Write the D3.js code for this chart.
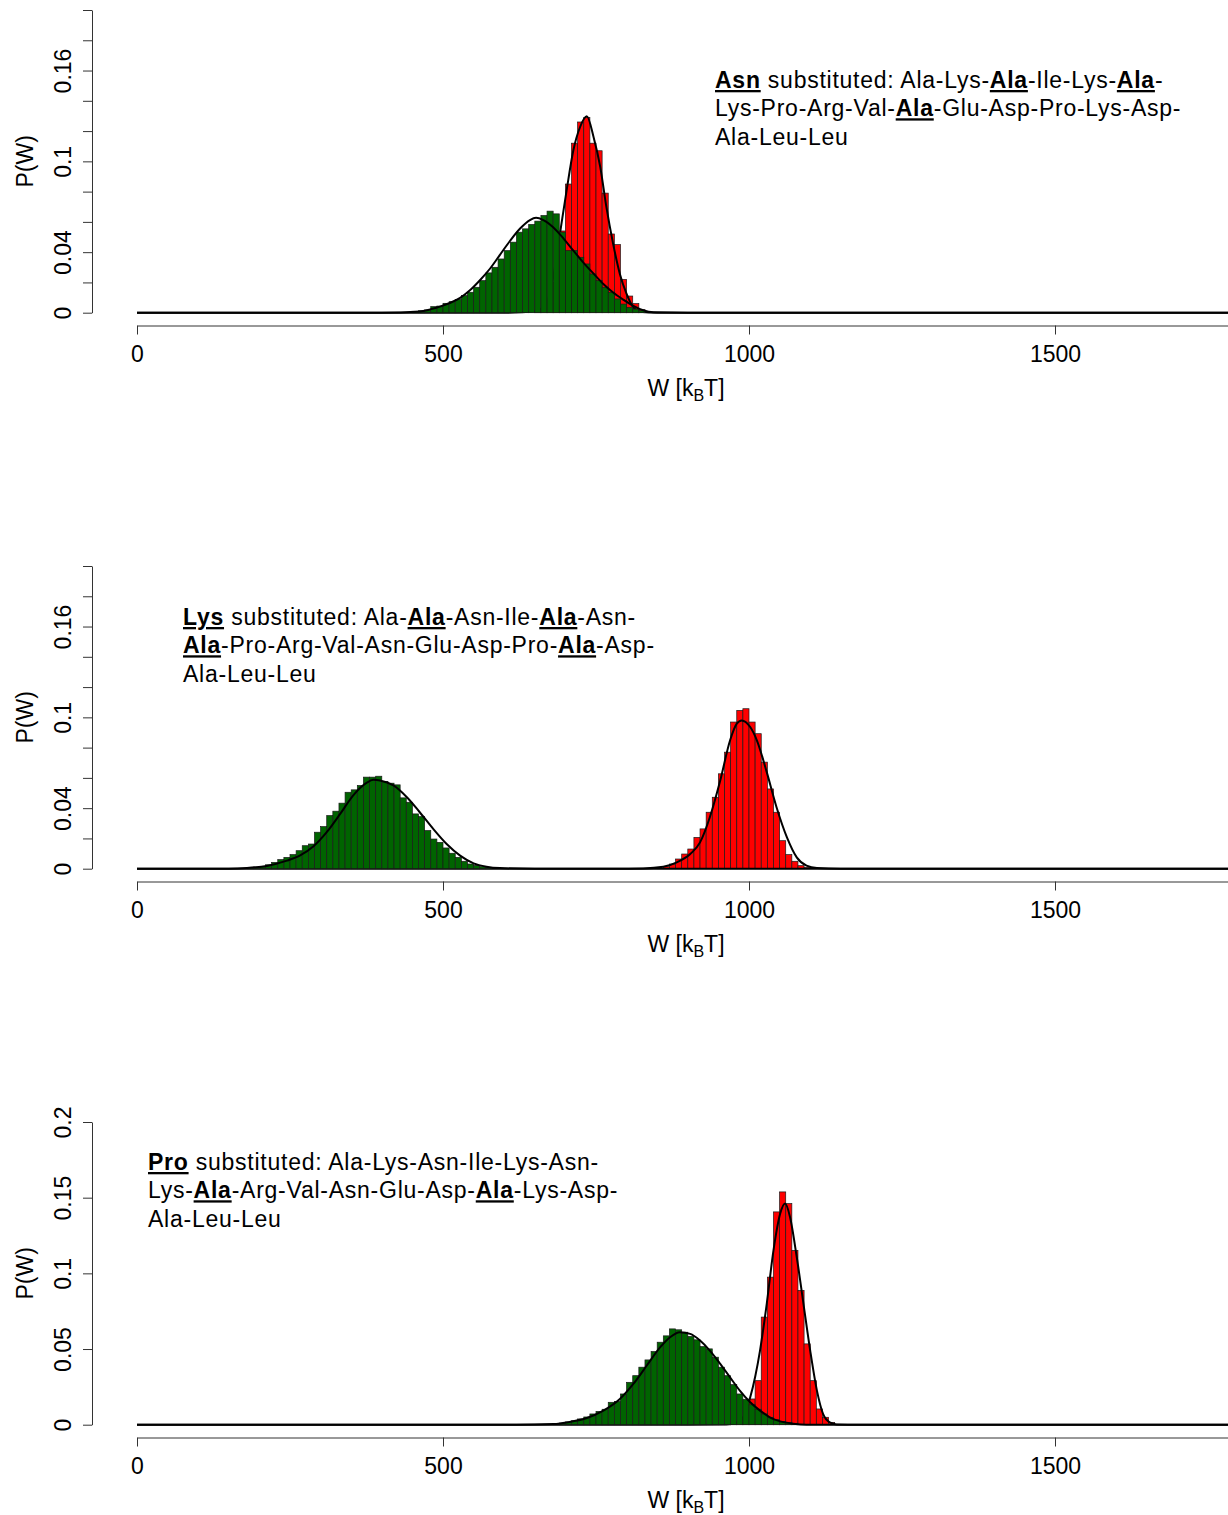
<!DOCTYPE html>
<html>
<head>
<meta charset="utf-8">
<script src="https://cdn.jsdelivr.net/npm/d3@7"></script>
<style>
body { margin: 0; background: #fff; }
text { font-family: "Liberation Sans", Arial, sans-serif; fill: #000; white-space: pre; }
</style>
</head>
<body>
<svg id="main"></svg>
<script>
// bin width of every histogram, in kBT
var binWidth = 10;

// Asn substituted
var asnGreenStart = 450;
var asnGreen = [0.0009, 0.0013, 0.0018, 0.0040, 0.0044, 0.0062, 0.0073, 0.0088, 0.0113, 0.0135,
	0.0168, 0.0212, 0.0263, 0.0300, 0.0355, 0.0410, 0.0466, 0.0532, 0.0554, 0.0583,
	0.0605, 0.0642, 0.0671, 0.0653, 0.0532, 0.0410, 0.0410, 0.0366, 0.0322, 0.0256,
	0.0212, 0.0168, 0.0135, 0.0091, 0.0057, 0.0035, 0.0024, 0.0013];
var asnRedStart = 650;
var asnRed = [0.001, 0.003, 0.007, 0.020, 0.054, 0.085, 0.112, 0.126, 0.129, 0.112,
	0.107, 0.079, 0.052, 0.045, 0.022, 0.011, 0.006, 0.002];
var asnGreenFit = [[0, 0], [400, 0], [462, 0.0008], [479, 0.0022], [495, 0.004], [511, 0.0064], [528, 0.0098],
	[544, 0.0148], [560, 0.0213], [577, 0.0292], [593, 0.0382], [609, 0.0472], [626, 0.0556], [642, 0.0612],
	[652, 0.0627], [664, 0.0612], [680, 0.0565], [697, 0.0490], [713, 0.0410], [729, 0.0333], [746, 0.0258],
	[762, 0.0190], [778, 0.0133], [795, 0.0085], [811, 0.0045], [827, 0.0016], [844, 0.0003], [900, 0], [1800, 0]];
var asnRedFit = [[0, 0], [600, 0], [650, 0.0008], [669, 0.0065], [680, 0.0234], [691, 0.052], [702, 0.0808],
	[713, 0.1073], [724, 0.1227], [735, 0.1298], [746, 0.1161], [757, 0.0962], [767, 0.0697], [778, 0.0455],
	[789, 0.0256], [800, 0.0124], [811, 0.0035], [822, 0.0007], [850, 0], [1800, 0]];

// Lys substituted
var lysGreenStart = 180;
var lysGreen = [0.0009, 0.0011, 0.0015, 0.0026, 0.0042, 0.0060, 0.0075, 0.0093, 0.0119, 0.0152,
	0.0163, 0.0241, 0.0278, 0.0351, 0.0380, 0.0433, 0.0505, 0.0521, 0.0550, 0.0605,
	0.0605, 0.0611, 0.0576, 0.0565, 0.0554, 0.0468, 0.0439, 0.0362, 0.0344, 0.0252,
	0.0196, 0.0174, 0.0137, 0.0102, 0.0075, 0.0049, 0.0031, 0.0022, 0.0013, 0.0009];
var lysRedStart = 850;
var lysRed = [0.0003, 0.0013, 0.0031, 0.0064, 0.0097, 0.0130, 0.0207, 0.0263, 0.0373, 0.0472,
	0.0627, 0.0770, 0.0969, 0.1046, 0.1057, 0.0969, 0.0892, 0.0704, 0.0527, 0.0373,
	0.0185, 0.0093, 0.0049, 0.0020, 0.0009];
var lysGreenFit = [[0, 0], [150, 0], [179, 0.0004], [212, 0.0018], [245, 0.0053], [266, 0.0086], [288, 0.0146],
	[310, 0.0241], [332, 0.0362], [353, 0.0483], [375, 0.0567], [386, 0.0587], [397, 0.0583], [419, 0.055],
	[441, 0.0472], [462, 0.0373], [484, 0.0263], [506, 0.0163], [528, 0.0086], [550, 0.0035], [571, 0.0013],
	[593, 0.0004], [650, 0], [1800, 0]];
var lysRedFit = [[0, 0], [780, 0], [827, 0.0002], [860, 0.0013], [882, 0.0042], [904, 0.0097], [920, 0.0174],
	[936, 0.034], [953, 0.0583], [969, 0.0847], [980, 0.0958], [988, 0.098], [1002, 0.0936], [1013, 0.0847],
	[1029, 0.0638], [1045, 0.0406], [1062, 0.0207], [1078, 0.0075], [1094, 0.002], [1111, 0.0004], [1150, 0], [1800, 0]];

// Pro substituted
var proGreenStart = 680;
var proGreen = [0.0004, 0.0011, 0.0018, 0.0026, 0.0038, 0.0051, 0.0071, 0.0088, 0.0102, 0.0148,
	0.0154, 0.0203, 0.0280, 0.0324, 0.0380, 0.0428, 0.0483, 0.0545, 0.0587, 0.0633,
	0.0627, 0.0611, 0.0583, 0.0561, 0.0516, 0.0501, 0.0446, 0.0380, 0.0324, 0.0265,
	0.0203, 0.0168, 0.0132, 0.0102, 0.0071, 0.0049, 0.0033, 0.0022, 0.0015, 0.0009];
var proRedStart = 970;
var proRed = [0.0005, 0.0012, 0.003, 0.017, 0.0291, 0.0711, 0.0975, 0.1406, 0.1538, 0.1461,
	0.1152, 0.0887, 0.0534, 0.0291, 0.0104, 0.0049, 0.0015];
var proGreenFit = [[0, 0], [620, 0], [680, 0.0004], [707, 0.0018], [735, 0.0044], [762, 0.0093], [789, 0.017],
	[811, 0.0269], [833, 0.0391], [855, 0.0512], [871, 0.0578], [887, 0.0611], [904, 0.06], [920, 0.0556],
	[936, 0.049], [953, 0.0402], [969, 0.0313], [985, 0.0225], [1002, 0.0148], [1018, 0.0093], [1034, 0.0049],
	[1051, 0.0022], [1072, 0.0007], [1094, 0], [1800, 0]];
var proRedFit = [[0, 0], [900, 0], [963, 0.0002], [985, 0.0022], [1002, 0.0181], [1018, 0.049], [1029, 0.0799],
	[1040, 0.1152], [1051, 0.1395], [1059, 0.1461], [1067, 0.1373], [1078, 0.1108], [1089, 0.0799], [1100, 0.049],
	[1111, 0.0225], [1121, 0.0071], [1132, 0.0015], [1143, 0.0002], [1180, 0], [1800, 0]];

// axes
var xTicks = [0, 500, 1000, 1500];
var yTicksA = [0, 0.02, 0.04, 0.06, 0.08, 0.1, 0.12, 0.14, 0.16, 0.18, 0.2];
var yLabelsA = ["0", "0.04", "0.1", "0.16"];
var yTicksB = [0, 0.05, 0.1, 0.15, 0.2];
var yLabelsB = ["0", "0.05", "0.1", "0.15", "0.2"];

// notes, *word* = bold + underlined
var asnNote = ["*Asn* substituted: Ala-Lys-*Ala*-Ile-Lys-*Ala*-", "Lys-Pro-Arg-Val-*Ala*-Glu-Asp-Pro-Lys-Asp-", "Ala-Leu-Leu"];
var lysNote = ["*Lys* substituted: Ala-*Ala*-Asn-Ile-*Ala*-Asn-", "*Ala*-Pro-Arg-Val-Asn-Glu-Asp-Pro-*Ala*-Asp-", "Ala-Leu-Leu"];
var proNote = ["*Pro* substituted: Ala-Lys-Asn-Ile-Lys-Asn-", "Lys-*Ala*-Arg-Val-Asn-Glu-Asp-*Ala*-Lys-Asp-", "Ala-Leu-Leu"];

var panels = [
	{green: asnGreen, greenStart: asnGreenStart, red: asnRed, redStart: asnRedStart,
		greenFit: asnGreenFit, redFit: asnRedFit, ticks: yTicksA, labels: yLabelsA, note: asnNote,
		top: 0, noteX: 715, noteY: 88},
	{green: lysGreen, greenStart: lysGreenStart, red: lysRed, redStart: lysRedStart,
		greenFit: lysGreenFit, redFit: lysRedFit, ticks: yTicksA, labels: yLabelsA, note: lysNote,
		top: 556, noteX: 183, noteY: 69},
	{green: proGreen, greenStart: proGreenStart, red: proRed, redStart: proRedStart,
		greenFit: proGreenFit, redFit: proRedFit, ticks: yTicksB, labels: yLabelsB, note: proNote,
		top: 1112, noteX: 148, noteY: 58},
];

var width = 1228, height = 1515;
var svg = d3.select('#main').attr('width', width).attr('height', height);

// axis runs past the right edge, like the cropped original
var x = d3.scaleLinear().domain([0, 2000]).range([137, 137 + 0.612 * 2000]);
var axisX = 92;
var fontSize = 23;

function bins(values, start) {
	return values.map((v, i) => ({x0: start + i * binWidth, x1: start + (i + 1) * binWidth, v}));
}

function drawNote(g, lines, x0, y0) {
	lines.forEach((line, i) => {
		var t = g.append('text')
			.attr('x', x0)
			.attr('y', y0 + i * 28.3)
			.attr('font-size', fontSize)
			.attr('letter-spacing', 0.75);
		line.split('*').forEach((part, j) => {
			if (!part) return;
			var s = t.append('tspan').text(part);
			if (j % 2) s.attr('font-weight', 'bold').attr('text-decoration', 'underline');
		});
	});
}

panels.forEach(p => {
	var g = svg.append('g').attr('transform', `translate(0,${p.top})`);
	var y = d3.scaleLinear().domain([0, 0.2]).range([312.7, 10]);

	var line = d3.line()
		.x(d => x(d[0]))
		.y(d => y(d[1]))
		.curve(d3.curveMonotoneX);

	// red hist + fit first, green hist + fit over it
	for (let [data, start, fit, color] of [
		[p.red, p.redStart, p.redFit, '#ff0000'],
		[p.green, p.greenStart, p.greenFit, '#006400']
	]) {
		g.append('g').selectAll('rect')
			.data(bins(data, start))
			.join('rect')
			.attr('x', d => x(d.x0))
			.attr('width', d => x(d.x1) - x(d.x0))
			.attr('y', d => y(d.v))
			.attr('height', d => y(0) - y(d.v))
			.attr('fill', color)
			.attr('stroke', '#1a1a1a')
			.attr('stroke-width', 0.7);
		g.append('path')
			.attr('d', line(fit))
			.attr('fill', 'none')
			.attr('stroke', '#000')
			.attr('stroke-width', 2);
	}

	// x axis
	var gx = g.append('g')
		.attr('transform', 'translate(0,325.5)')
		.call(d3.axisBottom(x).tickValues(xTicks).tickSize(9).tickSizeOuter(0).tickPadding(11).tickFormat(d3.format('d')));
	gx.selectAll('path, line').attr('stroke', '#333');
	gx.selectAll('text').attr('font-size', fontSize).attr('font-family', null).attr('fill', '#000');

	var xt = g.append('text')
		.attr('x', 686)
		.attr('y', 396)
		.attr('text-anchor', 'middle')
		.attr('font-size', fontSize);
	xt.append('tspan').text('W [k');
	xt.append('tspan').text('B').attr('font-size', 16).attr('dy', 5);
	xt.append('tspan').text('T]').attr('dy', -5);

	// y axis
	var gy = g.append('g')
		.attr('transform', `translate(${axisX},0)`)
		.call(d3.axisLeft(y).tickValues(p.ticks).tickSize(9).tickSizeOuter(0)
			.tickFormat(d => p.labels.includes(String(d)) ? String(d) : ''));
	gy.selectAll('path, line').attr('stroke', '#333');
	gy.selectAll('text')
		.attr('font-size', fontSize)
		.attr('font-family', null)
		.attr('fill', '#000')
		.attr('text-anchor', 'middle')
		.attr('x', 0).attr('dy', 0)
		.attr('transform', 'translate(-21,0) rotate(-90)');

	g.append('text')
		.attr('transform', `translate(33,${(y(0) + y(0.2)) / 2}) rotate(-90)`)
		.attr('text-anchor', 'middle')
		.attr('font-size', fontSize)
		.text('P(W)');

	drawNote(g, p.note, p.noteX, p.noteY);
});
</script>
</body>
</html>
